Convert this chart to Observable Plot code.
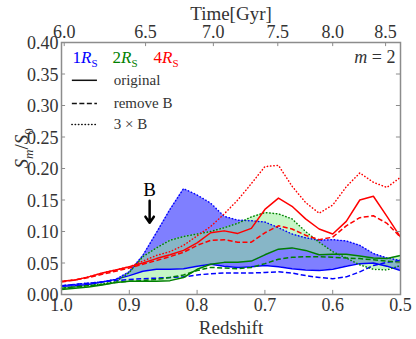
<!DOCTYPE html>
<html><head><meta charset="utf-8">
<script src="https://cdn.jsdelivr.net/npm/d3@7"></script>
<script src="https://cdn.jsdelivr.net/npm/@observablehq/plot@0.6"></script>
<style>body{margin:0;background:#fff} #chart{width:416px;height:339px}</style>
</head><body><div id="chart"></div>
<script>
// redshift grid
const redshift = [1.00,0.98,0.96,0.94,0.92,0.90,0.88,0.86,0.84,0.82,0.80,0.78,0.76,0.74,0.72,0.70,0.68,0.66,0.64,0.62,0.60,0.58,0.56,0.54,0.52,0.50];
// 1 R_S (blue)
const blueOriginal = [0.013,0.014,0.016,0.020,0.024,0.030,0.037,0.040,0.040,0.041,0.045,0.048,0.045,0.043,0.044,0.046,0.044,0.041,0.039,0.038,0.040,0.045,0.049,0.050,0.045,0.038];
const blueRemoveB  = [0.014,0.016,0.018,0.020,0.022,0.024,0.025,0.026,0.027,0.028,0.031,0.033,0.034,0.034,0.034,0.035,0.036,0.034,0.030,0.027,0.025,0.028,0.036,0.046,0.051,0.054];
const blueTripleB  = [0.014,0.016,0.018,0.020,0.024,0.036,0.062,0.098,0.135,0.168,0.158,0.145,0.124,0.118,0.117,0.115,0.106,0.096,0.090,0.086,0.087,0.085,0.078,0.065,0.058,0.054];
// 2 R_S (green)
const greenOriginal = [0.008,0.010,0.012,0.015,0.019,0.021,0.021,0.021,0.022,0.027,0.040,0.048,0.051,0.051,0.053,0.063,0.072,0.074,0.070,0.063,0.064,0.064,0.061,0.058,0.057,0.062];
const greenRemoveB  = [0.010,0.012,0.014,0.016,0.019,0.021,0.022,0.024,0.027,0.031,0.038,0.043,0.042,0.041,0.043,0.049,0.056,0.059,0.060,0.060,0.059,0.058,0.057,0.055,0.053,0.051];
const greenTripleB  = [0.010,0.012,0.014,0.017,0.020,0.035,0.060,0.074,0.086,0.092,0.096,0.100,0.106,0.113,0.123,0.130,0.128,0.120,0.100,0.083,0.068,0.058,0.047,0.040,0.039,0.046];
// 4 R_S (red)
const redOriginal = [0.021,0.023,0.028,0.034,0.039,0.044,0.050,0.057,0.063,0.070,0.082,0.098,0.101,0.097,0.105,0.135,0.153,0.140,0.120,0.104,0.096,0.116,0.150,0.156,0.124,0.091];
const redRemoveB  = [0.020,0.023,0.027,0.032,0.037,0.042,0.048,0.054,0.060,0.067,0.078,0.086,0.087,0.083,0.083,0.098,0.109,0.104,0.094,0.087,0.091,0.109,0.122,0.125,0.113,0.091];
const redTripleB  = [0.021,0.023,0.028,0.034,0.039,0.044,0.053,0.062,0.068,0.078,0.093,0.108,0.128,0.150,0.176,0.203,0.205,0.172,0.146,0.129,0.142,0.171,0.193,0.178,0.170,0.186];

// axes
const xTicks = [1.0,0.9,0.8,0.7,0.6,0.5];
const yTicks = [0,0.05,0.10,0.15,0.20,0.25,0.30,0.35,0.40];
const timeLabels = [6.0,6.5,7.0,7.5,8.0,8.5];
const timeTickZ  = [0.996,0.876,0.776,0.681,0.600,0.522];

// legend
const legendNames = ["original","remove B","3 × B"];
const legendY = [0.340,0.303,0.270];
const legendZ = [0.984,0.947];
const radiusLabels = ["1R_S","2R_S","4R_S"];
const radiusColors = ["blue","green","red"];

// annotation
const arrowZ = [0.87];
const arrowFrom = [0.149];
const arrowTo = [0.114];
const arrowText = ["B"];

const DASH = "5,2.5", DOT = "0.4,2.9";
const legendDash = [null, DASH, DOT];
const capOf = d => d === DOT ? "round" : "butt";

const series = [
  {v: blueOriginal, c: "blue", d: null},
  {v: blueRemoveB, c: "blue", d: DASH},
  {v: blueTripleB, c: "blue", d: DOT},
  {v: greenOriginal, c: "green", d: null},
  {v: greenRemoveB, c: "green", d: DASH},
  {v: greenTripleB, c: "green", d: DOT},
  {v: redOriginal, c: "red", d: null},
  {v: redRemoveB, c: "red", d: DASH},
  {v: redTripleB, c: "red", d: DOT}
];

const textColor = "#333";
const gray = "#8c8c8c";
const tickLenY = 0.0065, tickLenX = 0.006;
const M = "middle";

const marks = [
  Plot.areaY(redshift, {x: d=>d, y1: (d,i)=>blueOriginal[i], y2: (d,i)=>blueTripleB[i], fill: "blue", fillOpacity: 0.5}),
  Plot.areaY(redshift, {x: d=>d, y1: (d,i)=>greenOriginal[i], y2: (d,i)=>greenTripleB[i], fill: "#90ee90", fillOpacity: 0.5}),
  ...series.map(s => Plot.line(redshift, {x: d=>d, y: (d,i)=>s.v[i], stroke: s.c, strokeWidth: 1.5, strokeDasharray: s.d, strokeLinecap: capOf(s.d)})),
  // inward tick marks
  Plot.ruleX(xTicks, {x: d=>d, y1: 0, y2: tickLenY, stroke: gray}),
  Plot.ruleX(timeTickZ, {x: d=>d, y1: 0.4, y2: 0.4 - tickLenY, stroke: gray}),
  Plot.ruleY(yTicks, {y: d=>d, x1: 1.0, x2: 1.0 - tickLenX, stroke: gray}),
  Plot.ruleY(yTicks, {y: d=>d, x1: 0.5, x2: 0.5 + tickLenX, stroke: gray}),
  Plot.frame({stroke: gray, strokeWidth: 1.5}),
  // tick labels
  Plot.text(xTicks, {x: d=>d, frameAnchor: "bottom", lineAnchor: M, dy: 11, text: d=>d.toFixed(1), fontSize: 18, fill: textColor}),
  Plot.text(timeTickZ, {x: d=>d, frameAnchor: "top", lineAnchor: M, dy: -10, text: (d,i)=>timeLabels[i].toFixed(1), fontSize: 18, fill: textColor}),
  Plot.text(yTicks, {y: d=>d, frameAnchor: "left", lineAnchor: M, dx: -3, dy: 1, textAnchor: "end", text: d=>d.toFixed(2), fontSize: 18, fill: textColor}),
  // axis labels
  Plot.text(["Redshift"], {frameAnchor: "bottom", lineAnchor: M, dy: 33, text: d=>d, fontSize: 19, fill: textColor}),
  Plot.text(["Time[Gyr]"], {frameAnchor: "top", lineAnchor: M, dy: -29, text: d=>d, fontSize: 19, fill: textColor}),
  Plot.text(["S_m/S_0"], {frameAnchor: "left", lineAnchor: M, dx: -40, rotate: -90, text: d=>d, fontSize: 19, fill: textColor}),
  // in-plot legend
  Plot.text(radiusLabels, {frameAnchor: "top-left", lineAnchor: M, text: d=>d, fill: (d,i)=>radiusColors[i], fontSize: 17, textAnchor: "start", dy: 15}),
  Plot.text(["m = 2"], {frameAnchor: "top-right", lineAnchor: M, dx: -5, dy: 15, text: d=>d, fontSize: 18, textAnchor: "end", fill: textColor}),
  ...legendNames.map((n,i) => Plot.ruleY([legendY[i]], {x1: legendZ[0], x2: legendZ[1], stroke: "#111", strokeWidth: 1.5, strokeDasharray: legendDash[i], strokeLinecap: capOf(legendDash[i])})),
  Plot.text(legendNames, {x: legendZ[1] - 0.024, y: (d,i)=>legendY[i], lineAnchor: M, text: d=>d, textAnchor: "start", fontSize: 15, fill: textColor}),
  // annotation
  Plot.arrow(arrowZ, {x1: d=>d, x2: d=>d, y1: (d,i)=>arrowFrom[i], y2: (d,i)=>arrowTo[i], stroke: "black", strokeWidth: 2.5, headLength: 7, headAngle: 70}),
  Plot.text(arrowText, {x: (d,i)=>arrowZ[i], y: (d,i)=>arrowFrom[i], lineAnchor: M, dy: -11, text: d=>d, fontSize: 19, fill: "black"})
];

const chart = Plot.plot({
  width: 416, height: 339,
  marginLeft: 61, marginRight: 16, marginTop: 42, marginBottom: 45,
  x: {domain: [1.0, 0.5], axis: null},
  y: {domain: [0, 0.4], axis: null},
  style: {fontFamily: "Liberation Serif", background: "white", overflow: "visible"},
  marks
});

// rich text (italics and subscripts)
const sub = (s, size) => `<tspan dy="4" font-size="${size}">${s}</tspan>`;
const rich = {
  "1R_S": `1<tspan font-style="italic">R</tspan>${sub("S", 11)}`,
  "2R_S": `2<tspan font-style="italic">R</tspan>${sub("S", 11)}`,
  "4R_S": `4<tspan font-style="italic">R</tspan>${sub("S", 11)}`,
  "m = 2": `<tspan font-style="italic">m</tspan> = 2`,
  "S_m/S_0": `<tspan font-style="italic">S</tspan><tspan dy="5" font-size="13" font-style="italic">m</tspan><tspan dy="-5">/</tspan><tspan font-style="italic">S</tspan><tspan dy="5" font-size="13">0</tspan>`
};
const rOff = {"1R_S": 11, "2R_S": 51, "4R_S": 92};
d3.select(chart).selectAll("text").each(function() {
  const t = this.textContent;
  if (rich[t]) {
    this.innerHTML = rich[t];
    if (rOff[t] !== undefined) {
      const tr = this.getAttribute("transform") || "";
      this.setAttribute("transform", tr + ` translate(${rOff[t]},0)`);
    }
  }
});
document.getElementById("chart").append(chart);
</script>
</body></html>
